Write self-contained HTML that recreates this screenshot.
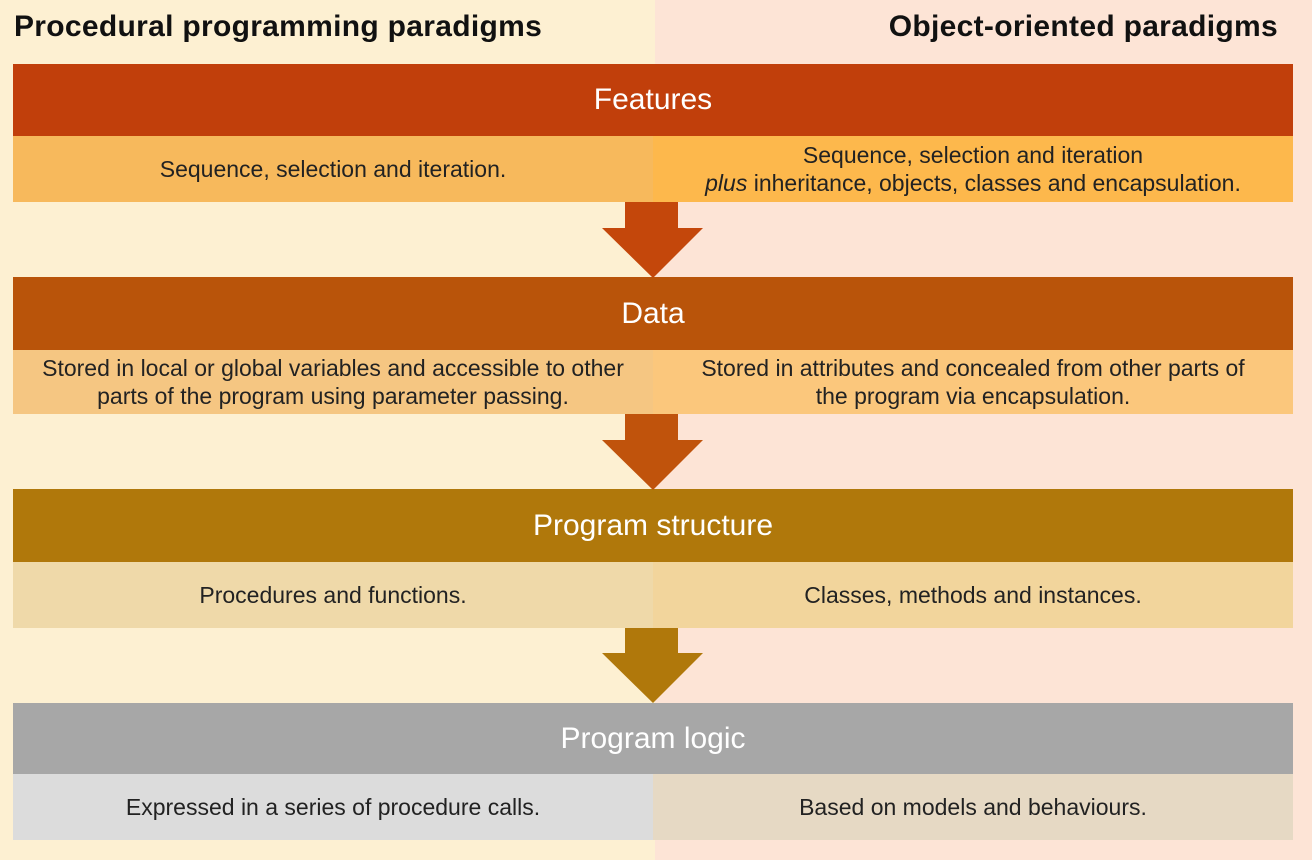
<!DOCTYPE html>
<html><head><style>
body{margin:0;width:1312px;height:860px;position:relative;overflow:hidden;font-family:"Liberation Sans",sans-serif;background:#fdf0d2}
.r{position:absolute;left:655px;top:0;width:657px;height:860px;background:#fde4d6}
.b{position:absolute;left:13px;width:1280px}
.h{color:#fff;font-size:30px;display:flex;align-items:center;justify-content:center}
.s{display:flex}
.s>div{flex:1;display:flex;align-items:center;justify-content:center;text-align:center;font-size:23px;color:#222;line-height:28px;white-space:nowrap}
.t{position:absolute;top:10px;font-size:30px;font-weight:bold;color:#111;letter-spacing:0.3px}
svg{position:absolute;left:0;top:0}
</style></head><body>
<div class="r"></div>
<div class="t" style="left:14px">Procedural programming paradigms</div>
<div class="t" style="right:34px">Object-oriented paradigms</div>

<div class="b h" style="top:64px;height:72px;background:#c13f0b">Features</div>
<div class="b s" style="top:136px;height:66px"><div style="background:#f7b95c">Sequence, selection and iteration.</div><div style="background:#fdb84c"><span>Sequence, selection and iteration<br><i>plus</i> inheritance, objects, classes and encapsulation.</span></div></div>

<div class="b h" style="top:277px;height:73px;background:#b9540a">Data</div>
<div class="b s" style="top:350px;height:64px"><div style="background:#f5c682"><span>Stored in local or global variables and accessible to other<br>parts of the program using parameter passing.</span></div><div style="background:#fbc77c"><span>Stored in attributes and concealed from other parts of<br>the program via encapsulation.</span></div></div>

<div class="b h" style="top:489px;height:73px;background:#b0780b">Program structure</div>
<div class="b s" style="top:562px;height:66px"><div style="background:#efd9a9">Procedures and functions.</div><div style="background:#f2d59c">Classes, methods and instances.</div></div>

<div class="b h" style="top:703px;height:71px;background:#a7a7a7">Program logic</div>
<div class="b s" style="top:774px;height:66px"><div style="background:#dcdcdc">Expressed in a series of procedure calls.</div><div style="background:#e6d9c4">Based on models and behaviours.</div></div>

<svg width="1312" height="860">
<polygon points="625,202 678,202 678,228 703,228 653,278 602,228 625,228" fill="#c4470b"/>
<polygon points="625,414 678,414 678,440 703,440 653,490 602,440 625,440" fill="#c0530c"/>
<polygon points="625,628 678,628 678,653 703,653 653,703 602,653 625,653" fill="#b0780b"/>
</svg>
</body></html>
